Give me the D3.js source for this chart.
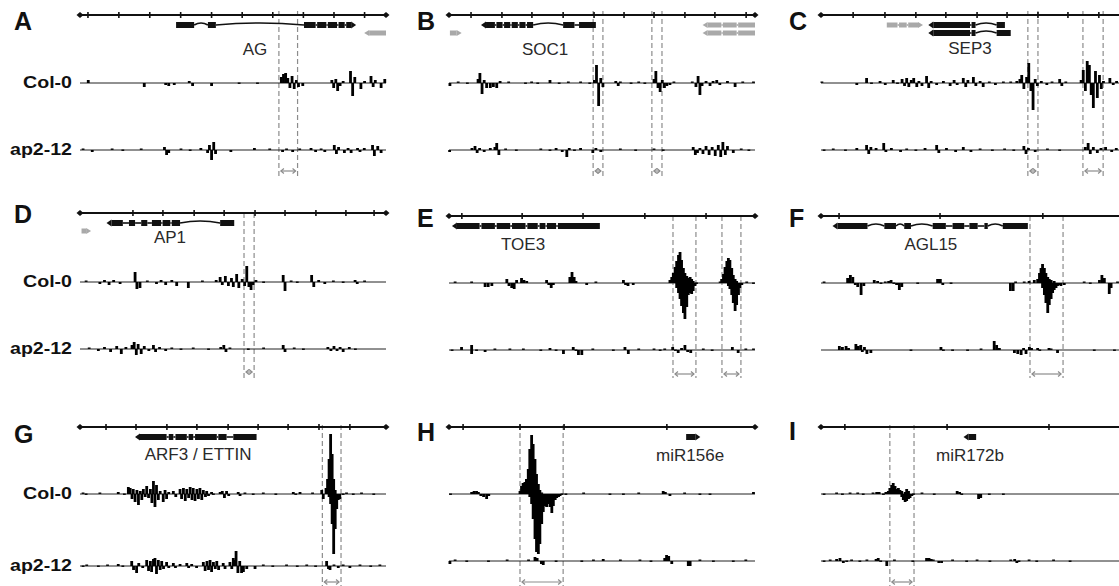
<!DOCTYPE html>
<html>
<head>
<meta charset="utf-8">
<script src="https://cdnjs.cloudflare.com/ajax/libs/d3/7.8.5/d3.min.js"></script>
<style>
body { margin: 0; background: #fff; }
svg { display: block; }
text { font-family: "Liberation Sans", Arial, sans-serif; }
</style>
</head>
<body>
<svg width="1119" height="586"></svg>
<script>
// ---- data: positions are % of each locus window, signal in log ratio units ----

var ticksA = [2.6, 12.7, 22.8, 32.9, 43, 53, 63, 73, 83, 93];
var ticksB = [7.2, 17.3, 27.1, 37.3, 47.4, 57.2, 67, 77.1, 86.9, 97.1];
var ticksC = [10.5, 20.9, 31, 40.8, 51, 60.8, 70.9, 80.7, 90.8];
var ticksD = [17.3, 27.1, 37.3, 47.1, 57.2, 67, 77.1, 86.9, 96.1];
var ticksE = [4.2, 23.9, 43.8, 64, 84];
var ticksF = [5.9, 38.9, 72.5];
var ticksG = [8.5, 18.3, 28.4, 38.2, 48.4, 58.2, 68, 78.1, 88.2];
var ticksH = [4.6, 23.2, 37.6, 71.2];
var ticksI = [7.8, 41.2, 74.5];

var genesA = [
  {exons: [[31.4, 37.3], [41.8, 44.4], [73.2, 77], [77.5, 80.5], [81, 84], [84.5, 86.5], [87, 88.6]], strand: 1, lane: 0, grey: false},
  {exons: [[94.5, 100]], strand: -1, lane: 1, grey: true}
];
var genesB = [
  {exons: [[12.1, 15], [15.5, 17.5], [18, 20], [20.5, 22.5], [23, 25], [25.5, 27.5], [37.3, 41], [42.5, 48]], strand: -1, lane: 0, grey: false},
  {exons: [[0.3, 2.5]], strand: 1, lane: 1, grey: true},
  {exons: [[84.5, 89], [89.5, 94], [94.5, 100]], strand: -1, lane: 0, grey: true},
  {exons: [[84.5, 89], [89.5, 94], [94.5, 100]], strand: -1, lane: 1, grey: true}
];
var genesC = [
  {exons: [[21.5, 25], [25.5, 28], [28.5, 31.7]], strand: 1, lane: 0, grey: true},
  {exons: [[36.7, 48.7], [49.2, 50.5], [57.4, 60.1]], strand: -1, lane: 0, grey: false},
  {exons: [[36.7, 48.7], [49.2, 50.5], [57.4, 62]], strand: -1, lane: 1, grey: false}
];
var genesD = [
  {exons: [[10.3, 14], [16, 18], [20, 22], [23.5, 26.5], [27, 29.5], [30, 32.7], [45.8, 50.4]], strand: -1, lane: 0, grey: false},
  {exons: [[0.5, 2]], strand: 1, lane: 1, grey: true}
];
var genesE = [
  {exons: [[2.6, 10], [10.6, 15], [15.6, 20], [20.6, 25], [25.6, 29], [29.6, 31.5], [32, 35], [35.6, 49.3]], strand: -1, lane: 0, grey: false}
];
var genesF = [
  {exons: [[5.4, 15.2], [20.7, 24.5], [27.2, 29.4], [36.5, 40.8], [43, 46.8], [48.5, 51.2], [53.4, 54.5], [59.4, 67.6]], strand: -1, lane: 0, grey: false}
];
var genesG = [
  {exons: [[19.6, 28.3], [29, 30.5], [31.2, 34.9], [35.5, 37], [37.6, 44.7], [45.2, 47.9], [50.1, 57.7]], strand: -1, lane: 0, grey: false}
];
var genesH = [
  {exons: [[77.5, 80.5]], strand: 1, lane: 0, grey: false}
];
var genesI = [
  {exons: [[48.2, 50.7]], strand: -1, lane: 0, grey: false}
];

var regionsA = [[65.0, 71.1]];
var regionsB = [[47.1, 50.3], [66.3, 69.6]];
var regionsC = [[67.6, 70.9], [85.6, 92.2]];
var regionsD = [[53.6, 56.9]];
var regionsE = [[73.2, 80.7], [89.2, 95.4]];
var regionsF = [[68.3, 79.1]];
var regionsG = [[79.2, 85.3]];
var regionsH = [[23.2, 37.3]];
var regionsI = [[22.5, 30.4]];

var colA = [[2.7,.3],[21,-.4],[28,-.2],[29,-.3],[30.8,-.2],[35.7,.2],[36.8,-.3],[43,-.3],[52,-.1],[58,-.1],[65.8,.6],[66.5,.9],[67.2,1.0],[67.9,.5],[68.6,-.5],[69.3,.7],[70,-.6],[70.7,.3],[71.4,-.4],[72.8,-.3],[82.3,.3],[82.9,-.5],[83.6,.4],[84.2,-.8],[85,-.3],[86,.2],[88.4,1.2],[89.1,-1.3],[89.8,.6],[91.8,-.6],[93,.2],[95.1,.7],[95.8,-.4],[96.5,.3],[98.4,-.5],[99.6,.4]];
var apA = [[1,.1],[4,-.2],[10.5,.1],[14,-.1],[20,.1],[27.6,.3],[28.3,-.5],[29,-.3],[33,.1],[36,-.1],[39.5,.2],[41.7,-.3],[42.3,.5],[43,-1.0],[43.7,.8],[44.3,-.4],[49.3,-.2],[57,.2],[62,.1],[66.2,-.2],[67.5,.1],[69.5,-.2],[71.8,.1],[75.5,.2],[77,-.2],[78.8,.1],[80,-.2],[83.1,.5],[83.8,-.4],[84.5,.3],[86.4,-.3],[87.6,.2],[88.6,-.3],[90.7,.2],[91.5,-.2],[92.9,.2],[95.6,.5],[96.2,-.6],[97.3,.4],[98.4,-.3]];

var colB = [[.3,-.3],[3,.1],[6,-.1],[9.5,.4],[10.1,1.0],[10.8,-1.1],[11.5,.3],[12.3,-.5],[13.5,-.5],[14.5,-.4],[15.6,-.5],[16.7,.2],[19.5,.1],[25,-.1],[27,.1],[29,-.1],[33,.3],[36,-.1],[39,.1],[43,.1],[46,-.1],[47.5,.3],[48.2,1.8],[48.9,-2.3],[49.6,.5],[50.3,-.4],[54.5,.2],[55.3,-.3],[56,.1],[59.5,-.1],[62,.1],[64,-.1],[67,.4],[67.6,1.2],[68.3,-.5],[69,-.9],[69.7,.3],[70.4,-.5],[71.2,-.3],[72.2,-.2],[73.5,.1],[79.5,.1],[80.7,-.4],[81.4,.7],[82,-1.2],[82.7,-.3],[84,.2],[85.3,-.3],[86.3,.2],[87.5,.3],[88.5,-.2],[91,.2],[93.5,-.4],[96,.1],[99.5,.1]];
var apB = [[.2,-.2],[7.5,.2],[8.5,.4],[9.2,-.3],[10,.2],[11.5,-.2],[13.5,.2],[15,.3],[15.6,.7],[16.3,-.5],[18.5,.1],[22,-.1],[30,.1],[33,-.1],[35,.2],[37,-.2],[38.5,-.7],[39.3,.2],[41,-.1],[43,.2],[47,-.3],[48,.2],[49.6,-.2],[56,.1],[61,-.1],[67,.1],[70,-.1],[79.8,.3],[80.5,-.5],[81.2,-.3],[82,.2],[83,-.4],[84,.4],[85,-.5],[86,.3],[87,-.6],[88,.5],[88.8,-.7],[89.5,.8],[90.3,-.5],[91,.4],[92.9,-.3],[95.5,.1],[98,-.1]];

var colC = [[.3,.1],[11.7,-.2],[14.9,.5],[16.5,-.1],[19.3,.2],[21,-.2],[23.6,.3],[25,-.1],[26.5,.4],[27.3,-.3],[28,.5],[28.7,-.4],[29.5,.3],[30.3,.5],[31.3,-.4],[32,.2],[33,-.3],[34.5,.7],[35.2,-.5],[36,.2],[37.8,-.2],[40,.2],[42.2,-.3],[43.5,.3],[44.5,-.2],[46.5,.5],[47.3,-.4],[48,.3],[49.8,.6],[50.6,-.3],[52,.2],[53,-.4],[55,.1],[57,-.2],[59.6,.1],[62,.1],[64,.2],[65,.4],[65.6,.8],[66.3,-.6],[67.2,.6],[67.9,2.0],[68.6,-.8],[69.3,-2.7],[70,.4],[70.7,-.3],[72,.2],[73.8,-.2],[75.5,.1],[78,.4],[78.7,-.3],[80,.1],[85,.3],[85.7,1.3],[86.4,-.8],[87,2.2],[87.7,1.8],[88.3,-1.2],[89,-2.5],[89.7,1.2],[90.3,-1.5],[91,.8],[91.6,-.6],[92.3,.2],[94.4,.5],[95.5,-.2],[96.6,.2]];
var apC = [[1,-.1],[4,.1],[8,-.1],[11.7,.2],[14.9,.5],[15.6,-.4],[16.3,.3],[18,.2],[20.5,.7],[21.2,-.2],[23,.2],[26,-.2],[28,.1],[31,-.1],[34,.2],[37.8,.5],[38.5,-.3],[41,.2],[44,-.2],[46.5,.3],[49,-.2],[52,.1],[56,-.1],[60,.1],[63,-.1],[66.3,.4],[67,-.4],[67.8,.2],[70,-.2],[74,.1],[78,-.1],[86.4,.3],[87.3,.7],[88,-.4],[89,.3],[90.3,-.3],[91.5,.2],[93,.3],[95,-.2],[96.5,.2]];

var colD = [[2,.1],[6.5,-.2],[8,.2],[9.5,-.3],[11,.2],[13.1,-.2],[18,1.0],[18.6,-.7],[19.6,-.6],[22,.1],[25,-.2],[26.5,.2],[28,-.3],[30,.2],[31.6,-.4],[35.4,-.6],[40,.1],[44.5,.2],[45.8,.5],[46.5,-.3],[47.5,.6],[48.5,-.4],[49.5,.4],[50.1,-.5],[51.2,.8],[51.9,-.6],[53,.3],[53.8,-.4],[54.5,1.6],[55.2,-.5],[55.9,-.8],[56.6,-.3],[57.5,.2],[60,-.1],[66.4,.7],[67,-.9],[69,.1],[71,-.1],[75.7,.7],[76.4,-.5],[78,.2],[80,-.2],[82.8,.1],[86,-.1],[89.9,.2],[90.6,-.2],[93,.1]];
var apD = [[3,.1],[6,-.2],[8,.2],[10,-.3],[12,.3],[13.5,-.5],[15,.2],[17,.4],[17.7,.7],[18.4,-.6],[19,.5],[20,-.5],[21,.3],[22.5,-.2],[24,.4],[24.7,-.3],[26,.2],[28,-.2],[30,.1],[33,-.1],[37,.1],[42,-.1],[46,.2],[47,.4],[47.7,-.3],[49,.1],[55,-.1],[60,.1],[66.4,.4],[67,-.3],[70,.1],[73,-.1],[81,.2],[82,-.2],[83,.3],[84,-.2],[85,.2],[86,-.3],[88,.2],[90,-.1]];

var colE = [[2,.1],[7.4,.1],[11.8,-.4],[12.8,-.4],[14,-.3],[18.9,.4],[19.6,-.3],[20.5,-.5],[21.3,-.6],[22.1,.3],[23.7,.5],[24.5,.3],[25.4,.2],[31.9,.3],[32.6,-.2],[33.4,-.5],[34.1,-.2],[39.5,.6],[40.2,1.1],[40.9,.6],[41.5,.2],[45,-.2],[48,.1],[57,.3],[57.7,-.2],[58.5,-.3],[60.2,-.2],[72.2,.3],[72.8,.6],[73.3,1.0],[73.9,1.6],[74.4,2.2],[75,2.8],[75.5,3.1],[76,2.3],[76.6,1.5],[77.1,1.0],[77.7,.7],[78.2,.5],[78.8,.6],[79.3,.4],[79.8,.2],[74.4,-.5],[75,-1.0],[75.5,-1.6],[76,-2.3],[76.6,-3.0],[77.1,-3.6],[77.7,-2.4],[78.2,-1.2],[78.8,-1.0],[79.3,-1.1],[79.8,-.8],[80.4,-.3],[80.9,-.1],[88.6,.1],[89.1,.4],[89.7,.9],[90.2,1.6],[90.8,2.2],[91.3,2.5],[91.8,2.3],[92.4,1.5],[92.9,.8],[93.5,.4],[94,.2],[91.3,-.3],[91.8,-.6],[92.4,-1.2],[92.9,-2.0],[93.5,-2.8],[94,-2.2],[94.6,-1.2],[95.1,-.5],[95.7,-.2],[97.3,.1],[99.5,-.1]];
var apE = [[1,-.1],[4.1,.3],[7.4,.5],[7.4,-.4],[9,-.1],[11.8,-.2],[15,.1],[19.9,.1],[24.3,.1],[30,-.1],[33,.2],[35,-.1],[37.4,-.4],[40.6,.3],[41.5,-.1],[42.3,-.5],[43.4,-.5],[47,.1],[53.7,-.1],[57.5,.3],[58.6,-.4],[62,.1],[67,.1],[69,-.1],[70.5,.1],[73.1,.3],[74,-.1],[74.9,-.3],[76,.2],[77.1,.5],[78,-.2],[79,-.3],[83.1,.1],[86,-.1],[92.6,.3],[94.5,-.3],[97,.1],[99.5,.1]];

var colF = [[1,.1],[8.7,.5],[9.6,.8],[10.4,.6],[11.2,-.2],[12,-.4],[13.1,-1.2],[14,-.3],[17.4,.3],[18.5,.2],[19.6,-.1],[21,.1],[22.1,.2],[22.9,.3],[23.8,-.1],[24.7,-.2],[25.6,-.7],[26.4,-.4],[31.6,-.1],[38.1,.4],[39,.4],[39.8,-.2],[42.5,-.1],[61.9,-.8],[62.8,-.8],[63.6,.1],[66.4,.1],[68,.2],[69.7,.3],[70.8,.4],[71.4,1.0],[71.9,1.5],[72.4,1.9],[73,1.5],[73.5,1.0],[74.1,.6],[74.6,.4],[75.2,.3],[76.2,.2],[72.4,-.5],[73,-1.2],[73.5,-2.0],[74.1,-3.0],[74.6,-2.2],[75.2,-1.6],[75.7,-1.0],[76.2,-.7],[76.8,-.5],[77.3,-.3],[77.9,-.2],[78.4,-.3],[79.5,-.2],[86,.1],[88,-.1],[91,.3],[91.8,.8],[92.6,.5],[94.2,-1.1],[94.8,-.5],[96.9,.1]];
var apF = [[6,.4],[7,.3],[8.2,.4],[9,.2],[11.4,.6],[12.2,.4],[13,.5],[13.5,-.2],[14.2,.3],[15,-.4],[16.3,-.3],[29.4,-.1],[39.2,.3],[40,-.1],[43,-.1],[47.9,-.1],[52.3,.1],[56.6,.9],[57.4,.5],[58.3,.2],[63.2,-.3],[64.3,-.4],[65.4,-.5],[66.2,.2],[67,-.4],[68.1,.3],[68.8,.2],[70.8,.2],[71.5,-.1],[74.5,.2],[75.2,.1],[77.3,-.3],[89.3,-.1],[95.9,-.1]];

var colG = [[1,.1],[2,-.1],[6.5,.1],[12.5,.2],[14.5,-.1],[15.8,.7],[16.4,.6],[17,-.5],[17.4,.5],[18,-.8],[18.6,.4],[19.1,-1.1],[19.7,.3],[20.2,-.6],[20.7,.5],[21.3,-.3],[21.8,.8],[22.4,-.4],[23,.5],[23.5,-.9],[24,1.3],[24.5,-1.3],[25,.9],[25.6,-.6],[26.2,.3],[27.2,-.8],[27.8,.4],[28.3,-.5],[29,.2],[30.5,.3],[31.3,-.3],[32.7,.5],[33.2,-.5],[33.8,.6],[34.4,-.7],[34.9,.5],[35.5,-.4],[36,.7],[36.6,-.6],[37,.6],[37.6,-.7],[38.2,.5],[38.7,-.5],[39.2,.6],[39.8,-.6],[40.3,.4],[41,-.3],[41.4,.3],[42,-.2],[43,.2],[43.6,-.1],[45.8,.2],[46.5,.3],[47.2,-.4],[47.9,.3],[48.6,-.2],[51.7,.2],[52.3,-.2],[53.9,.1],[56.6,-.1],[59.9,.1],[64,-.1],[69.7,.2],[70.5,-.1],[71.9,.2],[76,.1],[79,.4],[79.5,-.5],[80.4,.6],[80.9,1.5],[81.4,3.5],[81.9,6.0],[82.4,4.0],[82.9,1.5],[83.4,.4],[81.4,-.3],[81.9,-1.0],[82.4,-3.0],[82.9,-6.0],[83.4,-3.5],[83.9,-1.5],[84.4,-.6],[84.9,-.5],[86,-.1],[87.1,.1],[89.3,-.1],[92,.1],[96,-.1]];
var apG = [[1,-.1],[2.2,.1],[6,-.1],[9,.1],[12.5,.2],[14,-.1],[16.9,.5],[17.5,-.4],[18.5,-.7],[19.2,.3],[20.5,-.2],[21.8,.6],[22.4,-.5],[23,.5],[23.4,-.6],[24,.7],[24.5,.8],[25,-.8],[25.6,.6],[26.2,-.4],[26.7,.5],[27.3,-.3],[28.3,.4],[29,-.2],[30.5,.3],[31.2,-.2],[32.7,.2],[34.9,.3],[35.5,-.2],[36.5,.2],[38.1,-.2],[40.3,.4],[40.9,-.5],[41.5,.5],[42,-.4],[42.5,.6],[43,-.6],[43.6,.4],[44.2,-.3],[44.7,.5],[45.3,-.4],[46.8,.3],[47.4,-.3],[49,.4],[49.6,-.3],[50.1,.8],[50.6,.6],[51,1.5],[51.6,-.7],[52.2,.5],[52.8,-.7],[53.4,-.6],[54.5,-.3],[57.2,-.3],[59.9,.1],[63,-.1],[67.5,.1],[71,-.1],[74.1,.1],[77,-.1],[80.6,.5],[81.2,-.3],[81.7,-.4],[83,.1],[84.4,-.2],[86,.1],[88.2,-.2],[91.5,.1],[95,-.1],[98,.1]];

var colH = [[.5,-.1],[7.4,.2],[8.2,.3],[9,.3],[9.6,.2],[10.4,-.2],[11.3,-.3],[12.3,-.5],[13,-.2],[23.2,.3],[23.7,.8],[24.2,1.1],[24.8,1.2],[25.3,1.5],[25.9,2.5],[26.4,4.5],[27,5.9],[27.5,5.0],[28.1,3.5],[28.6,2.0],[29.2,1.0],[29.7,.4],[30.3,.1],[26.4,-.3],[27,-1.0],[27.5,-2.5],[28.1,-4.5],[28.6,-5.8],[29.2,-6.0],[29.7,-5.0],[30.3,-3.0],[30.8,-1.8],[31.4,-1.2],[31.9,-1.3],[32.5,-1.0],[33,-1.3],[33.6,-1.9],[34.1,-1.2],[34.7,-.6],[35.2,-.4],[35.8,-.3],[36.3,-.2],[36.9,-.1],[38.2,-.1],[44,.1],[52.6,-.1],[57,-.1],[62,.1],[70,.3],[70.7,.2],[72.2,-.2],[77,.1],[82,-.1],[85.3,-.1],[99.5,.2]];
var apH = [[.3,-.3],[2,.1],[5.8,-.1],[12.9,-.1],[19,.1],[26,.1],[28.1,.4],[28.8,.3],[30.2,-.3],[30.8,-.4],[35,-.1],[43.4,-.1],[47.2,.1],[50.4,.2],[56,.1],[62.4,.1],[66,-.1],[70.5,.3],[71.1,.6],[71.8,.5],[72.8,-.3],[78.2,-.5],[78.8,-.5],[82,.1],[86.4,-.1],[92.9,-.1],[97,.1]];

var colI = [[1,-.1],[5.1,.1],[7,-.1],[9.5,.1],[12,.1],[13.8,-.1],[17,.1],[18.2,.2],[19,.2],[20.4,-.1],[21.2,.2],[22,.3],[22.5,.6],[23.1,.9],[23.6,1.1],[24.2,.8],[24.7,.5],[25.3,.6],[25.8,.4],[26.4,-.3],[26.9,-.6],[27.5,-.8],[28,-.7],[28.6,-.5],[26.4,.3],[27.5,.2],[28,.5],[28.6,.3],[29.1,-.4],[29.7,-.2],[30.2,-.1],[33,.1],[37,-.1],[44.5,.3],[45.3,.2],[46,-.1],[51.5,-.5],[52.2,-.4],[55,-.1],[59.6,-.1]];
var apI = [[1,-.1],[3,.1],[5.1,.2],[6.2,.3],[7.3,-.2],[8.4,-.1],[10,.1],[12.7,-.1],[15,.1],[18,.2],[18.7,.3],[19.5,-.1],[21.5,-.5],[24,.1],[30,-.1],[34.5,.3],[35.3,.3],[36,.2],[36.7,.1],[38.5,-.2],[39.4,-.2],[43,.1],[47.6,-.1],[51,.1],[55.2,-.1],[62,.1],[63.3,.2],[64,-.2],[64.7,-.1],[68,.1],[70.5,-.1],[76,.1],[81.4,-.1]];

var geneNames = ["AG", "SOC1", "SEP3", "AP1", "TOE3", "AGL15", "ARF3 / ETTIN", "miR156e", "miR172b"];
var geneNamePos = [57.2, 31.4, 48.7, 29.4, 24.2, 35.9, 38.6, 78.8, 48.7];
var rowNames = ["Col-0", "ap2-12"];

// ---- layout ----
var svg = d3.select("svg");
var W = 306;
var colX = [80, 449, 821];
var rowLabelWidth = [49, 62];

var panels = [
  {id: "A", c: 0, axisY: 15, letterY: 30, labelY: 49, colY: 83, apY: 150, arrowY: 171, dTop: 11, dBot: 178, ticks: ticksA, genes: genesA, regions: regionsA, s1: colA, s2: apA},
  {id: "B", c: 1, axisY: 15, letterY: 30, labelY: 49, colY: 83, apY: 150, arrowY: 171, dTop: 11, dBot: 178, ticks: ticksB, genes: genesB, regions: regionsB, s1: colB, s2: apB},
  {id: "C", c: 2, axisY: 15, letterY: 30, labelY: 48, colY: 83, apY: 150, arrowY: 171, dTop: 11, dBot: 178, ticks: ticksC, genes: genesC, regions: regionsC, s1: colC, s2: apC},
  {id: "D", c: 0, axisY: 213, letterY: 223, labelY: 237, colY: 282, apY: 349, arrowY: 372, dTop: 213, dBot: 378, ticks: ticksD, genes: genesD, regions: regionsD, s1: colD, s2: apD},
  {id: "E", c: 1, axisY: 216, letterY: 227, labelY: 244, colY: 283, apY: 350, arrowY: 374, dTop: 216, dBot: 378, ticks: ticksE, genes: genesE, regions: regionsE, s1: colE, s2: apE},
  {id: "F", c: 2, axisY: 216, letterY: 227, labelY: 244, colY: 283, apY: 350, arrowY: 374, dTop: 216, dBot: 378, ticks: ticksF, genes: genesF, regions: regionsF, s1: colF, s2: apF},
  {id: "G", c: 0, axisY: 427, letterY: 443, labelY: 454, colY: 494, apY: 566, arrowY: 582, dTop: 425, dBot: 586, ticks: ticksG, genes: genesG, regions: regionsG, s1: colG, s2: apG},
  {id: "H", c: 1, axisY: 427, letterY: 441, labelY: 455, colY: 494, apY: 561, arrowY: 582, dTop: 425, dBot: 586, ticks: ticksH, genes: genesH, regions: regionsH, s1: colH, s2: apH},
  {id: "I", c: 2, axisY: 427, letterY: 440, labelY: 455, colY: 494, apY: 561, arrowY: 582, dTop: 425, dBot: 586, ticks: ticksI, genes: genesI, regions: regionsI, s1: colI, s2: apI}
];

var grey = "#8c8c8c";

panels.forEach(function(p, i) {
  var x0 = colX[p.c];
  var x = d3.scaleLinear().domain([0, 100]).range([x0, x0 + W]);
  var g = svg.append("g").attr("class", "panel");

  // panel letter
  g.append("text")
    .attr("x", x0 - (p.c == 0 ? 66 : 32))
    .attr("y", p.letterY)
    .attr("font-size", 25)
    .attr("font-weight", "bold")
    .attr("fill", "#111")
    .text(p.id);

  // dashed region lines + span arrows
  p.regions.forEach(function(r) {
    r.forEach(function(v) {
      g.append("line")
        .attr("x1", x(v)).attr("x2", x(v))
        .attr("y1", p.dTop).attr("y2", p.dBot)
        .attr("stroke", grey).attr("stroke-width", 1.2)
        .attr("stroke-dasharray", "5,3");
    });
    var a = x(r[0]) + 2, b = x(r[1]) - 2;
    g.append("line")
      .attr("x1", a).attr("x2", b)
      .attr("y1", p.arrowY).attr("y2", p.arrowY)
      .attr("stroke", grey).attr("stroke-width", 1.2);
    g.append("path")
      .attr("d", "M" + (a + 3) + "," + (p.arrowY - 2.5) + "L" + a + "," + p.arrowY + "L" + (a + 3) + "," + (p.arrowY + 2.5) +
                 "M" + (b - 3) + "," + (p.arrowY - 2.5) + "L" + b + "," + p.arrowY + "L" + (b - 3) + "," + (p.arrowY + 2.5))
      .attr("fill", "none").attr("stroke", grey).attr("stroke-width", 1.2);
  });

  // coordinate axis
  g.append("line")
    .attr("x1", x(0)).attr("x2", x(100))
    .attr("y1", p.axisY).attr("y2", p.axisY)
    .attr("stroke", "#111").attr("stroke-width", 2);
  g.selectAll(".tick").data(p.ticks).enter().append("line")
    .attr("x1", function(d) { return x(d); })
    .attr("x2", function(d) { return x(d); })
    .attr("y1", p.axisY - 3).attr("y2", p.axisY + 3)
    .attr("stroke", "#111").attr("stroke-width", 1.6);
  [0, 100].forEach(function(v) {
    var cx = x(v), cy = p.axisY;
    g.append("path")
      .attr("d", "M" + (cx - 3.5) + "," + cy + "L" + cx + "," + (cy - 3) + "L" + (cx + 3.5) + "," + cy + "L" + cx + "," + (cy + 3) + "Z")
      .attr("fill", "#111");
  });

  // gene models
  p.genes.forEach(function(gn) {
    var yc = p.axisY + 10 + gn.lane * 8;
    var col = gn.grey ? "#a9a9a9" : "#111";
    var h = gn.grey ? 5 : 6;
    var ex = gn.exons;
    for (var k = 0; k < ex.length - 1; k++) {
      var x1 = x(ex[k][1]), x2 = x(ex[k + 1][0]);
      g.append("path")
        .attr("d", x2 - x1 > 8
          ? "M" + x1 + "," + yc + "Q" + ((x1 + x2) / 2) + "," + (yc - 4) + " " + x2 + "," + yc
          : "M" + x1 + "," + yc + "L" + x2 + "," + yc)
        .attr("fill", "none").attr("stroke", col).attr("stroke-width", 1.6);
    }
    g.selectAll(null).data(ex).enter().append("rect")
      .attr("x", function(d) { return x(d[0]); })
      .attr("width", function(d) { return x(d[1]) - x(d[0]); })
      .attr("y", yc - h / 2).attr("height", h)
      .attr("fill", col);
    var tip, base;
    if (gn.strand < 0) { base = x(ex[0][0]); tip = base - 5; }
    else { base = x(ex[ex.length - 1][1]); tip = base + 5; }
    g.append("path")
      .attr("d", "M" + tip + "," + yc + "L" + base + "," + (yc - h / 2 - 0.5) + "L" + base + "," + (yc + h / 2 + 0.5) + "Z")
      .attr("fill", col);
  });

  g.append("text")
    .attr("x", x(geneNamePos[i]))
    .attr("y", p.labelY + 6)
    .attr("text-anchor", "middle")
    .attr("font-size", 17)
    .attr("fill", "#2a2a2a")
    .text(geneNames[i]);

  // ChIP signal tracks
  [[p.s1, p.colY], [p.s2, p.apY]].forEach(function(t, k) {
    var base = t[1];
    var yv = d3.scaleLinear().domain([-6, 6]).range([base + 60, base - 60]);
    g.append("line")
      .attr("x1", x(0)).attr("x2", x(100))
      .attr("y1", base).attr("y2", base)
      .attr("stroke", "#222").attr("stroke-width", 1);
    g.selectAll(null).data(t[0]).enter().append("rect")
      .attr("x", function(d) { return x(d[0]) - 1.4; })
      .attr("width", 2.8)
      .attr("y", function(d) { return Math.min(yv(d[1]), base) - (Math.abs(d[1]) < 0.15 ? 0.5 : 0); })
      .attr("height", function(d) { return Math.max(Math.abs(yv(d[1]) - base), 1.4); })
      .attr("fill", "#000");

    if (p.c == 0) {
      g.append("text")
        .attr("x", 72)
        .attr("y", base + 5)
        .attr("text-anchor", "end")
        .attr("font-size", 16)
        .attr("font-weight", "bold")
        .attr("fill", "#111")
        .attr("textLength", rowLabelWidth[k])
        .attr("lengthAdjust", "spacingAndGlyphs")
        .text(rowNames[k]);
    }
  });
});
</script>
</body>
</html>
